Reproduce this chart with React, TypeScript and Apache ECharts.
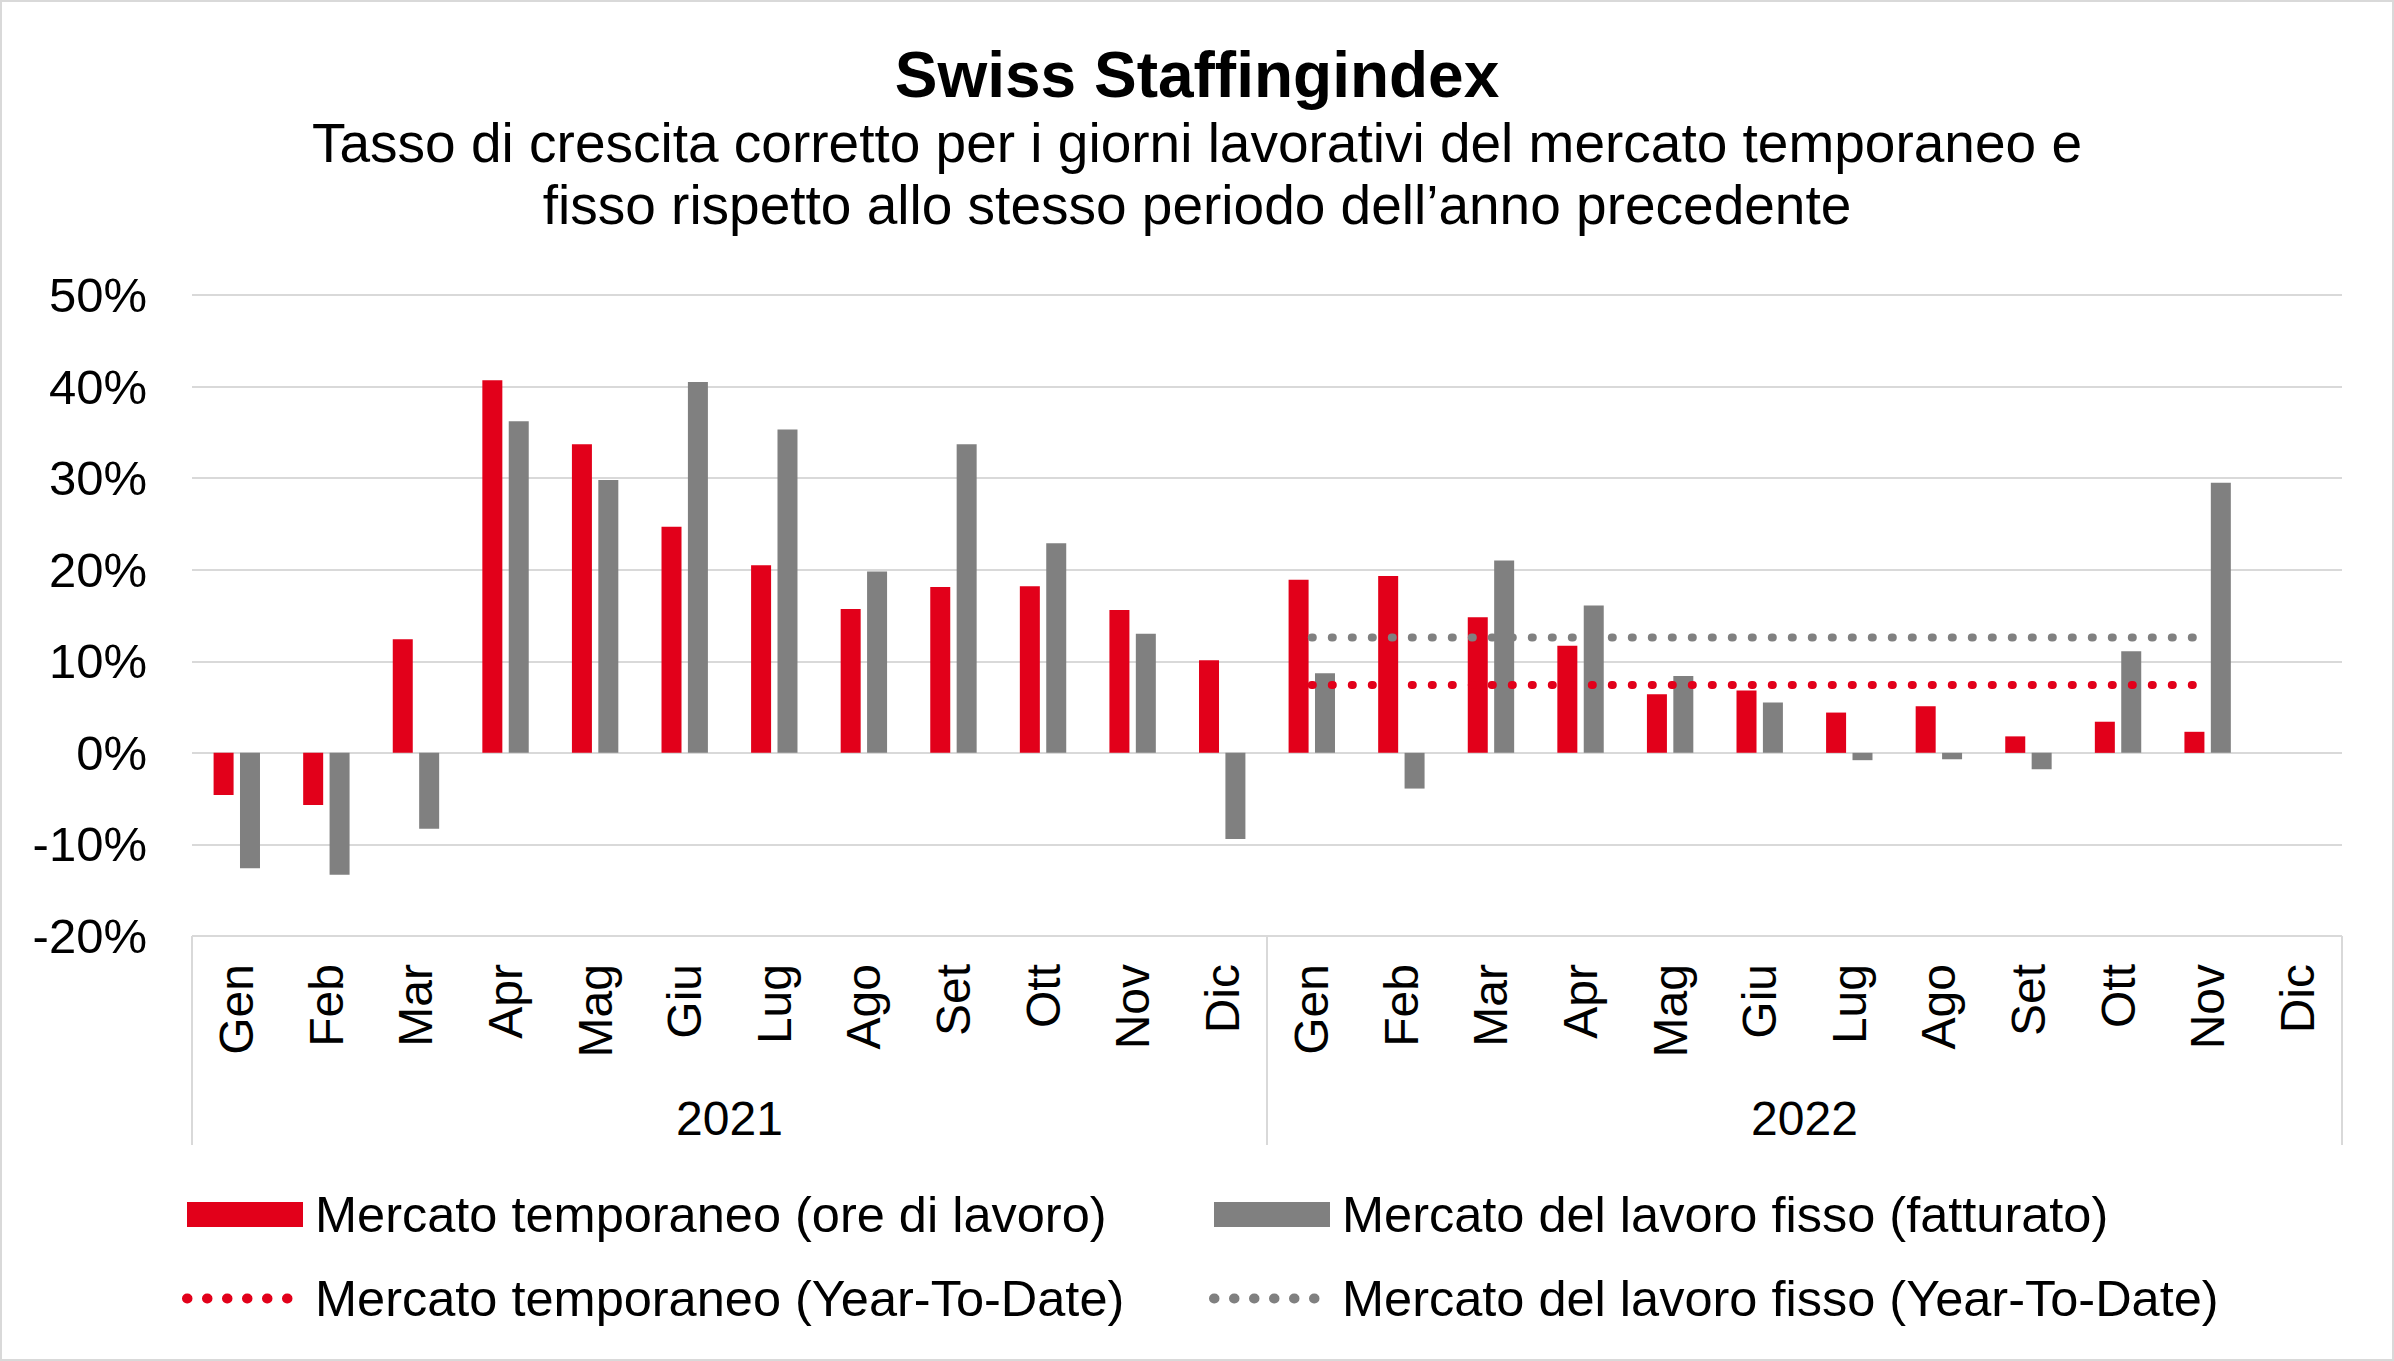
import React, { useEffect, useRef } from "react";
import * as echarts from "echarts";

const monthNames = ["Gen", "Feb", "Mar", "Apr", "Mag", "Giu", "Lug", "Ago", "Set", "Ott", "Nov", "Dic"];
const years = ["2021", "2022"];
const categories = [...monthNames, ...monthNames];

const temp2021 = [-4.6, -5.7, 12.4, 40.7, 33.7, 24.7, 20.5, 15.7, 18.1, 18.2, 15.6, 10.1];
const temp2022 = [18.9, 19.3, 14.8, 11.7, 6.4, 6.8, 4.4, 5.1, 1.8, 3.4, 2.3, null];
const fisso2021 = [-12.6, -13.3, -8.3, 36.2, 29.8, 40.5, 35.3, 19.8, 33.7, 22.9, 13.0, -9.4];
const fisso2022 = [8.7, -3.9, 21.0, 16.1, 8.4, 5.5, -0.8, -0.7, -1.8, 11.1, 29.5, null];
const ytdTemp2022 = [7.4, 7.4, 7.4, 7.4, 7.4, 7.4, 7.4, 7.4, 7.4, 7.4, 7.4, null];
const ytdFisso2022 = [12.6, 12.6, 12.6, 12.6, 12.6, 12.6, 12.6, 12.6, 12.6, 12.6, 12.6, null];
const yTicks = { min: -20, max: 50, interval: 10 };

const titleText = "Swiss Staffingindex";
const subtitleText =
  "Tasso di crescita corretto per i giorni lavorativi del mercato temporaneo e\nfisso rispetto allo stesso periodo dell\u2019anno precedente";

const names = {
  temp: "Mercato temporaneo (ore di lavoro)",
  fisso: "Mercato del lavoro fisso (fatturato)",
  ytdTemp: "Mercato temporaneo (Year-To-Date)",
  ytdFisso: "Mercato del lavoro fisso (Year-To-Date)",
};

const RED = "#E2001A";
const GRAY = "#808080";
const GRID = "#D9D9D9";
const FONT = "'Liberation Sans', Arial, sans-serif";

const legendText = { fontFamily: FONT, fontSize: 50.5, color: "#000", lineHeight: 50, padding: [0, 0, 0, 7] };
const legendDots = { width: 10, type: [0.5, 19.5], cap: "round" };

export default function App() {
  const ref = useRef<HTMLDivElement>(null);
  useEffect(() => {
    if (!ref.current) return;
    const chart = echarts.init(ref.current, undefined, { renderer: "svg" });
    const nulls2021 = monthNames.map(() => null);
    const option = {
      animation: false,
      backgroundColor: "#fff",
      textStyle: { fontFamily: FONT, color: "#000" },
      title: [
        {
          text: titleText,
          left: "center",
          top: 35,
          textStyle: { fontFamily: FONT, fontSize: 64, fontWeight: "bold", color: "#000", lineHeight: 70 },
        },
        {
          text: subtitleText,
          left: "center",
          top: 107,
          textStyle: { fontFamily: FONT, fontSize: 55, fontWeight: "normal", color: "#000", lineHeight: 62 },
        },
      ],
      graphic: [
        {
          type: "rect",
          shape: { x: 1, y: 1, width: 2392, height: 1359 },
          style: { fill: "none", stroke: GRID, lineWidth: 2 },
          silent: true,
        },
      ],
      grid: { left: 192, right: 52, top: 295, bottom: 425, containLabel: false },
      legend: [
        {
          orient: "vertical",
          left: 177,
          top: 1184,
          itemWidth: 116,
          itemHeight: 25,
          itemGap: 33,
          textStyle: legendText,
          data: [
            { name: names.temp, icon: "rect" },
            { name: names.ytdTemp, itemStyle: { opacity: 0 }, lineStyle: legendDots },
          ],
        },
        {
          orient: "vertical",
          left: 1204,
          top: 1184,
          itemWidth: 116,
          itemHeight: 25,
          itemGap: 33,
          textStyle: legendText,
          data: [
            { name: names.fisso, icon: "rect" },
            { name: names.ytdFisso, itemStyle: { opacity: 0 }, lineStyle: legendDots },
          ],
        },
      ],
      xAxis: [
        {
          type: "category",
          data: categories,
          position: "bottom",
          axisLine: { show: false, onZero: false },
          axisTick: { show: false },
          axisLabel: { rotate: 90, margin: 28, fontSize: 48, color: "#000", fontFamily: FONT, interval: 0 },
        },
        {
          type: "category",
          data: years,
          position: "bottom",
          axisLine: { show: false, onZero: false },
          axisTick: { show: true, length: 209, interval: 0, lineStyle: { color: GRID, width: 2 } },
          axisLabel: { margin: 158, fontSize: 48, color: "#000", fontFamily: FONT, interval: 0 },
        },
      ],
      yAxis: {
        type: "value",
        min: yTicks.min,
        max: yTicks.max,
        interval: yTicks.interval,
        axisLine: { show: false },
        axisTick: { show: false },
        axisLabel: { formatter: "{value}%", fontSize: 49, color: "#000", margin: 45, fontFamily: FONT },
        splitLine: { lineStyle: { color: GRID, width: 2 } },
      },
      series: [
        {
          name: names.temp,
          type: "bar",
          xAxisIndex: 0,
          data: [...temp2021, ...temp2022],
          barWidth: 20,
          barGap: "32%",
          itemStyle: { color: RED },
        },
        {
          name: names.fisso,
          type: "bar",
          xAxisIndex: 0,
          data: [...fisso2021, ...fisso2022],
          barWidth: 20,
          barGap: "32%",
          itemStyle: { color: GRAY },
        },
        {
          name: names.ytdTemp,
          type: "line",
          xAxisIndex: 0,
          data: [...nulls2021, ...ytdTemp2022],
          symbol: "none",
          lineStyle: { color: RED, width: 8, type: [1, 19], cap: "round" },
          itemStyle: { color: RED },
        },
        {
          name: names.ytdFisso,
          type: "line",
          xAxisIndex: 0,
          data: [...nulls2021, ...ytdFisso2022],
          symbol: "none",
          lineStyle: { color: GRAY, width: 8, type: [1, 19], cap: "round" },
          itemStyle: { color: GRAY },
        },
      ],
    };
    chart.setOption(option as any);
    return () => chart.dispose();
  }, []);
  return (
    <div
      ref={ref}
      style={{ position: "fixed", left: 0, top: 0, width: 2394, height: 1361, background: "#fff" }}
    />
  );
}
